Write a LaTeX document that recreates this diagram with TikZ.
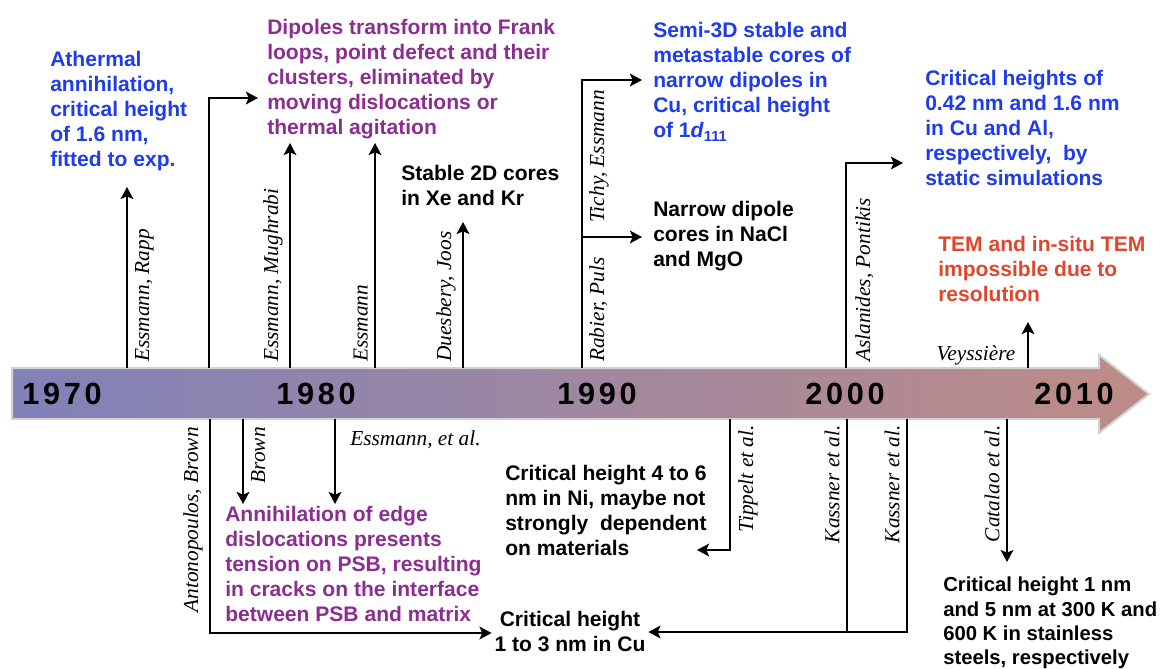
\documentclass[tikz,border=0pt]{standalone}
\usepackage{fontspec}
\setmainfont{Liberation Sans}
\newfontfamily\namefont{Liberation Serif}
\newfontfamily\yearfont[LetterSpace=12]{Liberation Sans}
\usetikzlibrary{arrows.meta, positioning}

\definecolor{noteblue}{RGB}{30,60,235}
\definecolor{notepurple}{RGB}{140,45,145}
\definecolor{notered}{RGB}{225,70,45}
\definecolor{barleft}{RGB}{128,130,185}
\definecolor{barright}{RGB}{190,140,135}

\begin{document}
\begin{tikzpicture}[x=0.75pt, y=-0.75pt,
    note/.style={font=\fontsize{15.8}{18.75}\selectfont\bfseries, align=left, anchor=north west, inner sep=0pt},
    who/.style={font=\fontsize{16}{18}\selectfont\namefont\itshape, inner sep=0pt},
    year/.style={font=\fontsize{23}{26}\selectfont\yearfont\bfseries, inner sep=0pt},
    stem/.style={line width=2.1pt},
    link/.style={stem, -{Stealth[length=9pt, width=9.5pt, inset=2pt]}}]
\useasboundingbox (0,0) rectangle (1167,668);

% time arrow
\shadedraw[left color=barleft, right color=barright, draw=gray!35, line width=1.5pt]
    (12,368) -- (1099,368) -- (1099,355) -- (1149,394) -- (1099,433) -- (1099,419) -- (12,419) -- cycle;
\node[year] (y1970) at (62,394) {1970};
\node[year] (y1980) at (316,394) {1980};
\node[year] (y1990) at (597,394) {1990};
\node[year] (y2000) at (845,394) {2000};
\node[year] (y2010) at (1074,394) {2010};

% findings above the axis
\node[note, text=noteblue] (athermal) at (50,51) {Athermal\\annihilation,\\critical height\\of 1.6 nm,\\fitted to exp.};
\node[note, text=notepurple] (frank) at (267,19) {Dipoles transform into Frank\\loops, point defect and their\\clusters, eliminated by\\moving dislocations or\\thermal agitation};
\node[note] (xekr) at (401,165) {Stable 2D cores\\in Xe and Kr};
\node[note, text=noteblue] (semi) at (653,22) {Semi-3D stable and\\metastable cores of\\narrow dipoles in\\Cu, critical height\\of 1\textit{d}\textsubscript{111}};
\node[note] (nacl) at (653,201) {Narrow dipole\\cores in NaCl\\and MgO};
\node[note, text=noteblue] (static) at (925,70) {Critical heights of\\0.42 nm and 1.6 nm\\in Cu and Al,\\respectively,~ by\\static simulations};
\node[note, text=notered] (tem) at (938,236) {TEM and in-situ TEM\\impossible due to\\resolution};

% findings below the axis
\node[note, text=notepurple] (psb) at (225,506) {Annihilation of edge\\dislocations presents\\tension on PSB, resulting\\in cracks on the interface\\between PSB and matrix};
\node[note] (ni) at (505,465) {Critical height 4 to 6\\nm in Ni, maybe not\\strongly~ dependent\\on materials};
\node[note, align=center, anchor=north] (cu) at (570,611) {Critical height\\1 to 3 nm in Cu};
\node[note, font=\fontsize{15.2}{18.2}\selectfont\bfseries] (steel) at (943,577) {Critical height 1 nm\\and 5 nm at 300 K and\\600 K in stainless\\steels, respectively};

% authors
\node[who, rotate=90, anchor=north west] (rapp) at (135,362) {Essmann, Rapp};
\node[who, rotate=90, anchor=south west] (mughrabi) at (283,362) {Essmann, Mughrabi};
\node[who, rotate=90, anchor=south west] (essmann) at (368,362) {Essmann};
\node[who, rotate=90, anchor=south west] (joos) at (456,362) {Duesbery, Joos};
\node[who, rotate=90, anchor=north west] (tichy) at (589,223) {Tichy, Essmann};
\node[who, rotate=90, anchor=north west] (puls) at (589,362) {Rabier, Puls};
\node[who, rotate=90, anchor=north west] (pontikis) at (855,362) {Aslanides, Pontikis};
\node[who, anchor=base] (veyss) at (976,360) {Veyssière};
\node[who, rotate=90, anchor=south east] (antono) at (203,427) {Antonopoulos, Brown};
\node[who, rotate=90, anchor=north east] (brown) at (251,427) {Brown};
\node[who, anchor=west] (etal) at (350,440) {Essmann, et al.};
\node[who, rotate=90, anchor=north east] (tippelt) at (738,425) {Tippelt et al.};
\node[who, rotate=90, anchor=south east] (kass1) at (840,425) {Kassner et al.};
\node[who, rotate=90, anchor=south east] (kass2) at (900,425) {Kassner et al.};
\node[who, rotate=90, anchor=south east] (catalao) at (1000,425) {Catalao et al.};

% stems on the axis
\foreach \n/\x/\y in {rp/127/187, fr/209/98, mu/290/143, es/375/143, dj/463/222,
                       rb/582/80, as/846/163, ve/1028/322} {
  \coordinate (\n A) at (\x,368);
  \coordinate (\n B) at (\x,\y);
}
\foreach \n/\x/\y in {an/210/633, br/243/504, ea/335/504, tp/730/550,
                       k1/847/632, k2/907/632, ca/1007/562} {
  \coordinate (\n A) at (\x,419);
  \coordinate (\n B) at (\x,\y);
}
\coordinate (frC) at (258,98);
\coordinate (rbC) at (642,80);
\coordinate (rbD) at (582,237);
\coordinate (rbE) at (642,237);
\coordinate (asC) at (903,163);
\coordinate (tpC) at (697,550);

\draw[link] (rpA) -- (rpB);
\draw[link] (frA) -- (frB) -- (frC);
\draw[link] (muA) -- (muB);
\draw[link] (esA) -- (esB);
\draw[link] (djA) -- (djB);
\draw[link] (rbA) -- (rbB) -- (rbC);
\draw[link] (rbD) -- (rbE);
\draw[link] (asA) -- (asB) -- (asC);
\draw[link] (veA) -- (veB);
\draw[link, shorten >=2pt] (anA) -- (anB) -- (anB -| cu.west);
\draw[link] (brA) -- (brB);
\draw[link] (eaA) -- (eaB);
\draw[link] (tpA) -- (tpB) -- (tpC);
\draw[stem] (k1A) -- (k1B);
\draw[link, shorten >=2pt] (k2A) -- (k2B) -- (k2B -| cu.east);
\draw[link] (caA) -- (caB);
\end{tikzpicture}
\end{document}
